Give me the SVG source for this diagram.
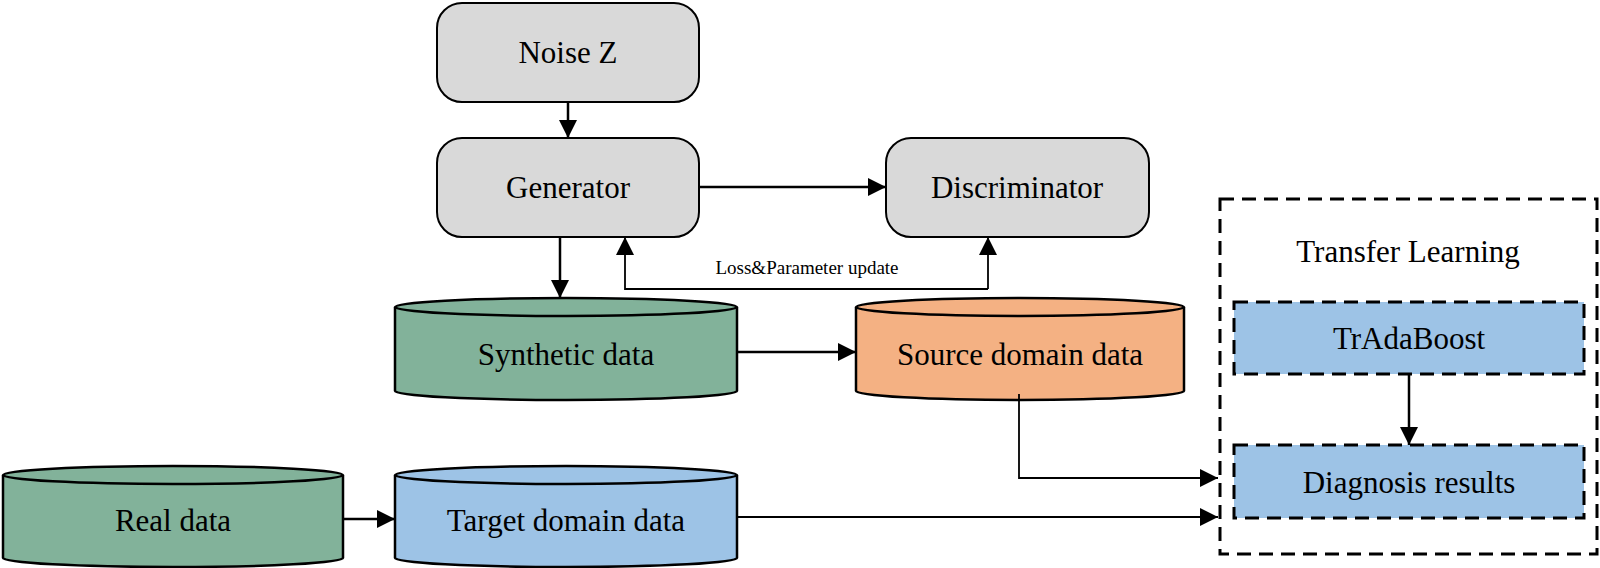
<svg xmlns="http://www.w3.org/2000/svg" width="1600" height="568" viewBox="0 0 1600 568">
<defs>
<style>
text{font-family:"Liberation Serif","Times New Roman",serif;fill:#000;text-anchor:middle;dominant-baseline:central}
.t{font-size:31px}
.s{font-size:19px}
.r{fill:#d9d9d9;stroke:#000;stroke-width:2}
.c{stroke:#000;stroke-width:2.5}
.d{stroke:#000;stroke-width:3;stroke-dasharray:14 8;fill:none}
.l{stroke:#000;stroke-width:2.5;fill:none;marker-end:url(#a)}
.l2{stroke:#000;stroke-width:1.8;fill:none;marker-end:url(#a)}
</style>
<marker id="a" viewBox="0 0 10 10" refX="10" refY="5" markerWidth="7" markerHeight="7" markerUnits="userSpaceOnUse" orient="auto"><path d="M0,0L10,5L0,10z" fill="#000"/></marker>
<marker id="b" viewBox="0 0 10 10" refX="10" refY="5" markerWidth="18" markerHeight="18" markerUnits="userSpaceOnUse" orient="auto"><path d="M0,0L10,5L0,10z" fill="#000"/></marker>
</defs>
<style>.l,.l2{marker-end:url(#b)}</style>
<g id="noise"><rect class="r" x="437" y="3" width="262" height="99" rx="25"/><text class="t" x="568" y="52">Noise Z</text></g>
<g id="generator"><rect class="r" x="437" y="138" width="262" height="99" rx="25"/><text class="t" x="568" y="187">Generator</text></g>
<g id="discriminator"><rect class="r" x="886" y="138" width="263" height="99" rx="25"/><text class="t" x="1017" y="187">Discriminator</text></g>
<g id="synthetic"><path class="c" fill="#82b29a" d="M395,307 L395,391 A171,9 0 0 0 737,391 L737,307"/><ellipse class="c" fill="#82b29a" cx="566" cy="307" rx="171" ry="9"/><text class="t" x="566" y="354">Synthetic data</text></g>
<g id="source"><path class="c" fill="#f4b183" d="M856,307 L856,391 A164,9 0 0 0 1184,391 L1184,307"/><ellipse class="c" fill="#f4b183" cx="1020" cy="307" rx="164" ry="9"/><text class="t" x="1020" y="354">Source domain data</text></g>
<g id="real"><path class="c" fill="#82b29a" d="M3,475 L3,558 A170,9 0 0 0 343,558 L343,475"/><ellipse class="c" fill="#82b29a" cx="173" cy="475" rx="170" ry="9"/><text class="t" x="173" y="520">Real data</text></g>
<g id="target"><path class="c" fill="#9dc3e6" d="M395,475 L395,558 A171,9 0 0 0 737,558 L737,475"/><ellipse class="c" fill="#9dc3e6" cx="566" cy="475" rx="171" ry="9"/><text class="t" x="566" y="520">Target domain data</text></g>
<g id="transfer"><rect class="d" x="1220" y="199" width="377" height="355"/><text class="t" x="1408" y="251">Transfer Learning</text></g>
<g id="tradaboost"><rect class="d" fill="#9dc3e6" style="fill:#9dc3e6" x="1234" y="302" width="350" height="72"/><text class="t" x="1409" y="338">TrAdaBoost</text></g>
<g id="diagnosis"><rect class="d" style="fill:#9dc3e6" x="1234" y="445" width="350" height="73"/><text class="t" x="1409" y="482">Diagnosis results</text></g>
<g id="connectors">
<path class="l" d="M568,102 V138"/>
<path class="l" d="M699,187 H886"/>
<path class="l" d="M560,237 V298"/>
<path class="l2" d="M988,289 V237"/>
<path class="l2" d="M988,289 H625 V237"/>
<path class="l" d="M737,352 H856"/>
<path class="l" d="M343,519 H395"/>
<path class="l2" d="M737,517 H1218"/>
<path class="l2" d="M1019,394 V478 H1218"/>
<path class="l" d="M1409,374 V445"/>
</g>
<text class="s" x="807" y="267">Loss&amp;Parameter update</text>
</svg>
